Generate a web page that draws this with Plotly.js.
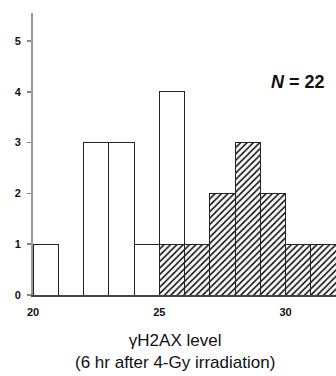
<!DOCTYPE html>
<html>
<head>
<meta charset="utf-8">
<script src="https://cdn.plot.ly/plotly-3.0.1.min.js"></script>
<style>html,body{margin:0;padding:0;background:#fff;}#chart{width:336px;height:376px;}</style>
</head>
<body>
<div id="chart"></div>
<script>
// Bin centres of the γH2AX level histogram (bin width 1)
const binCenters = [20.5, 21.5, 22.5, 23.5, 24.5, 25.5, 26.5, 27.5, 28.5, 29.5, 30.5, 31.5];
// Hatched group counts (bottom of stack)
const hatchedCounts = [0, 0, 0, 0, 0, 1, 1, 2, 3, 2, 1, 1];
// Open (white) group counts (stacked on top)
const openCounts = [1, 0, 3, 3, 1, 3, 0, 0, 0, 0, 0, 0];
const xTickVals = [20, 25, 30];
const yTickVals = [0, 1, 2, 3, 4, 5];
const xTitleLine1 = "γH2AX level";
const xTitleLine2 = "(6 hr after 4-Gy irradiation)";
const nLabel = "<i>N</i> = 22";

const FONT = "Liberation Sans, Arial, sans-serif";

const traces = [
  {
    type: "bar",
    x: binCenters,
    y: hatchedCounts,
    width: 1,
    marker: {
      color: "white",
      line: {color: "#222", width: 1},
      pattern: {shape: "/", fgcolor: "#111", bgcolor: "white", size: 4.5, solidity: 0.35}
    },
    hoverinfo: "skip",
    showlegend: false
  },
  {
    type: "bar",
    x: binCenters,
    y: openCounts,
    width: 1,
    marker: {color: "white", line: {color: "#222", width: 1}},
    hoverinfo: "skip",
    showlegend: false
  }
];

const layout = {
  width: 336,
  height: 376,
  margin: {l: 33, r: 0, t: 13, b: 81},
  paper_bgcolor: "white",
  plot_bgcolor: "white",
  barmode: "stack",
  bargap: 0,
  showlegend: false,
  font: {family: FONT, color: "#111"},
  xaxis: {
    range: [20, 32],
    tickvals: xTickVals,
    ticktext: xTickVals.map(String),
    ticks: "",
    showgrid: false,
    zeroline: false,
    showline: true,
    linecolor: "#444",
    linewidth: 1.5,
    tickfont: {family: FONT, size: 11, weight: "bold", color: "#111"},
    ticklabelstandoff: 6
  },
  yaxis: {
    range: [0, 5.55],
    tickvals: yTickVals,
    ticks: "outside",
    ticklen: 4,
    tickcolor: "#888",
    tickwidth: 1.5,
    showgrid: false,
    zeroline: false,
    showline: true,
    linecolor: "#999",
    linewidth: 2,
    tickfont: {family: FONT, size: 11, weight: "bold", color: "#111"},
    ticklabelstandoff: 4
  },
  annotations: [
    {
      xref: "paper", yref: "paper", x: 0.873, y: 0.755,
      xanchor: "center", yanchor: "middle", showarrow: false,
      text: nLabel,
      font: {family: FONT, size: 18, weight: "bold", color: "#111"}
    },
    {
      xref: "paper", yref: "paper", x: 0.469, y: -0.199,
      xanchor: "center", yanchor: "middle", showarrow: false,
      align: "center",
      text: xTitleLine1 + "<br>" + xTitleLine2,
      font: {family: FONT, size: 17, color: "#111"}
    }
  ]
};

Plotly.newPlot("chart", traces, layout, {staticPlot: true, displayModeBar: false});
</script>
</body>
</html>
